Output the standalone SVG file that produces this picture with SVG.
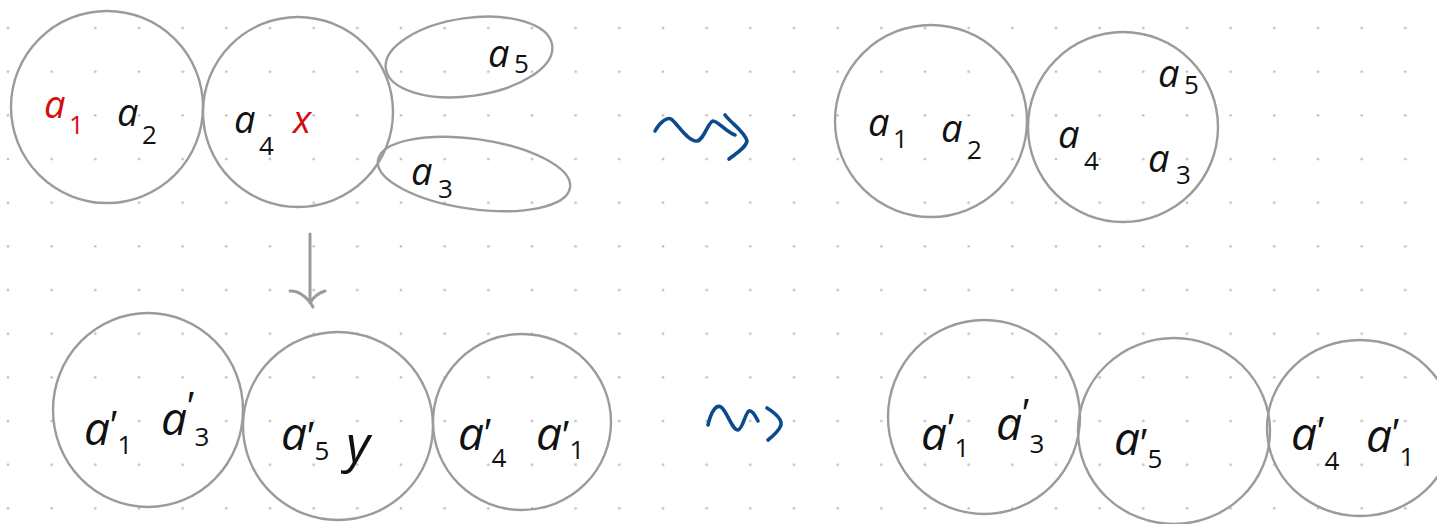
<svg xmlns="http://www.w3.org/2000/svg" width="1437" height="524" viewBox="0 0 1437 524">
<style>
.shape{fill:none;stroke:#9b9b9b;stroke-width:2.4}
.lbl{font-family:"Open Sans","Noto Sans",sans-serif;font-style:italic;font-weight:500;font-size:38px;fill:#111}
.big{font-size:46px}
.sub{font-size:26px;font-style:normal}
.sup{font-family:"Liberation Sans",sans-serif;font-size:40px;font-style:normal;font-weight:400}
.red{fill:#d40d12}
.blue{fill:none;stroke:#0c4a8e;stroke-width:3.6;stroke-linecap:round;stroke-linejoin:round}
.grey{fill:none;stroke:#9b9b9b;stroke-width:3;stroke-linecap:round;stroke-linejoin:round}
</style>
<defs>
<pattern id="dots" x="0" y="0" width="43.667" height="43.667" patternUnits="userSpaceOnUse">
<circle cx="8" cy="28" r="1.3" fill="#bdbdbd"/>
</pattern>
</defs>
<rect width="1437" height="524" fill="#ffffff"/>
<rect width="1437" height="524" fill="url(#dots)"/>

<g id="node-top-left-A">
<ellipse class="shape" cx="107" cy="107" rx="96" ry="96"/>
<text class="lbl red" x="44" y="118">a<tspan class="sub" x="69" y="134">1</tspan></text>
<text class="lbl" x="117" y="126">a<tspan class="sub" x="142" y="144">2</tspan></text>
</g>
<g id="node-top-left-B">
<ellipse class="shape" cx="298" cy="112" rx="95" ry="95"/>
<text class="lbl" x="234" y="133">a<tspan class="sub" x="259" y="155">4</tspan></text>
<text class="lbl red" x="293" y="133">x</text>
</g>
<g id="node-a5-ellipse">
<ellipse class="shape" cx="469" cy="57" rx="84" ry="39" transform="rotate(-8 469 57)"/>
<text class="lbl" x="488" y="67">a<tspan class="sub" x="514" y="73">5</tspan></text>
</g>
<g id="node-a3-ellipse">
<ellipse class="shape" cx="474" cy="174" rx="97" ry="35" transform="rotate(8 474 174)"/>
<text class="lbl" x="411" y="185">a<tspan class="sub" x="438" y="198">3</tspan></text>
</g>

<g id="node-top-right-C">
<ellipse class="shape" cx="931" cy="121" rx="96" ry="96"/>
<text class="lbl" x="868" y="136">a<tspan class="sub" x="893" y="148">1</tspan></text>
<text class="lbl" x="941" y="142">a<tspan class="sub" x="967" y="159">2</tspan></text>
</g>
<g id="node-top-right-D">
<ellipse class="shape" cx="1123" cy="127" rx="95" ry="95"/>
<text class="lbl" x="1158" y="87">a<tspan class="sub" x="1184" y="94">5</tspan></text>
<text class="lbl" x="1058" y="148">a<tspan class="sub" x="1084" y="170">4</tspan></text>
<text class="lbl" x="1148" y="172">a<tspan class="sub" x="1176" y="184">3</tspan></text>
</g>

<g id="node-bottom-left-E">
<ellipse class="shape" cx="148" cy="410" rx="95" ry="97"/>
<text class="lbl big" x="84" y="445">a<tspan class="sup" dy="-6">′</tspan><tspan class="sub" dy="15">1</tspan></text>
<text class="lbl big" x="161" y="435">a<tspan class="sup" dy="-15">′</tspan><tspan class="sub" dy="26">3</tspan></text>
</g>
<g id="node-bottom-left-F">
<ellipse class="shape" cx="338" cy="426" rx="95" ry="94"/>
<text class="lbl big" x="281" y="450">a<tspan class="sup" dy="0">′</tspan><tspan class="sub" dy="10">5</tspan></text>
<text class="lbl big" x="346" y="462" style="font-size:52px">y</text>
</g>
<g id="node-bottom-left-G">
<ellipse class="shape" cx="522" cy="422" rx="89" ry="88"/>
<text class="lbl big" x="458" y="450">a<tspan class="sup" dy="-3">′</tspan><tspan class="sub" dy="20">4</tspan></text>
<text class="lbl big" x="536" y="450">a<tspan class="sup" dy="-1">′</tspan><tspan class="sub" dy="10">1</tspan></text>
</g>

<g id="node-bottom-right-H">
<ellipse class="shape" cx="984" cy="417" rx="96" ry="97"/>
<text class="lbl big" x="921" y="450">a<tspan class="sup" dy="-8">′</tspan><tspan class="sub" dy="15">1</tspan></text>
<text class="lbl big" x="996" y="440">a<tspan class="sup" dy="-13">′</tspan><tspan class="sub" dy="26">3</tspan></text>
</g>
<g id="node-bottom-right-I">
<ellipse class="shape" cx="1174" cy="431" rx="96" ry="93"/>
<text class="lbl big" x="1114" y="455">a<tspan class="sup" dy="2">′</tspan><tspan class="sub" dy="11">5</tspan></text>
</g>
<g id="node-bottom-right-J">
<ellipse class="shape" cx="1360" cy="428" rx="93" ry="88"/>
<text class="lbl big" x="1291" y="450">a<tspan class="sup" dy="-5">′</tspan><tspan class="sub" dy="25">4</tspan></text>
<text class="lbl big" x="1366" y="452">a<tspan class="sup" dy="-5">′</tspan><tspan class="sub" dy="19">1</tspan></text>
</g>

<g id="connectors">
<path class="grey" d="M310,234 L310,302"/>
<path class="grey" d="M290,291 C298,290 305,296 310,302 C312,305 313,307 313,307 M325,291 C318,293 313,298 310,303"/>
<path class="blue" d="M655,131 C660,122 667,117 671,119 C678,124 688,142 697,141 C704,140 708,122 713,121 C718,121 726,132 735,135"/>
<path class="blue" d="M725,115 C732,124 745,132 747,141 C746,148 735,154 729,159"/>
<path class="blue" d="M708,425 C711,412 716,404 721,407 C727,411 732,430 738,430 C743,429 745,413 749,411 C752,410 756,417 758,421"/>
<path class="blue" d="M767,408 C775,413 782,419 781,425 C779,431 773,436 768,440"/>
</g>
</svg>
